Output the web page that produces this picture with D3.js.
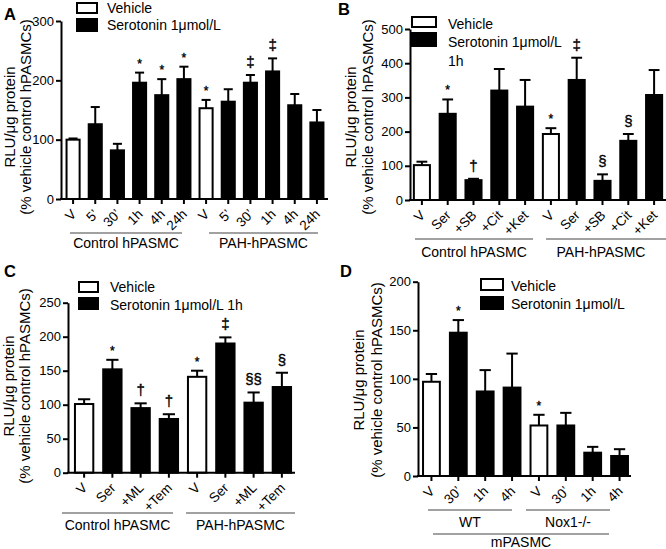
<!DOCTYPE html>
<html><head><meta charset="utf-8">
<script src="https://cdn.jsdelivr.net/npm/d3@7"></script>
<style>
body{margin:0;background:#fff;}
svg{display:block;font-family:"Liberation Sans",Arial,Helvetica,sans-serif;}
svg text{fill:#000;}
</style></head><body>
<svg id="chart" width="666" height="549"></svg>
<script>
// ---------- DATA ----------
// Panel A
const aLabels = ["V","5’","30’","1h","4h","24h","V","5’","30’","1h","4h","24h"];
const aValues = [100,126,82,196,175,202,153,164,196,215,158,129];
const aErrors = [2,29,11,17,27,21,14,21,13,22,19,21];
const aTypes  = ["veh","ser","ser","ser","ser","ser","veh","ser","ser","ser","ser","ser"];
const aMarks  = ["","","","*","*","*","*","","‡","‡","",""];
const aTicks  = [0,100,200,300];
const aGroups = ["Control hPASMC","PAH-hPASMC"];
const aLegend = ["Vehicle","Serotonin 1μmol/L"];

// Panel B
const bLabels = ["V","Ser","+SB","+Cit","+Ket","V","Ser","+SB","+Cit","+Ket"];
const bValues = [102,252,58,320,273,193,351,56,173,307];
const bErrors = [10,42,4,63,78,17,65,19,20,73];
const bTypes  = ["veh","ser","ser","ser","ser","veh","ser","ser","ser","ser"];
const bMarks  = ["","*","†","","","*","‡","§","§",""];
const bTicks  = [0,100,200,300,400,500];
const bGroups = ["Control hPASMC","PAH-hPASMC"];
const bLegend = ["Vehicle","Serotonin 1μmol/L","1h"];

// Panel C
const cLabels = ["V","Ser","+ML","+Tem","V","Ser","+ML","+Tem"];
const cValues = [101,152,95,79,141,190,103,126];
const cErrors = [7,14,7,7,9,9,15,21];
const cTypes  = ["veh","ser","ser","ser","veh","ser","ser","ser"];
const cMarks  = ["","*","†","†","*","‡","§§","§"];
const cTicks  = [0,50,100,150,200,250];
const cGroups = ["Control hPASMC","PAH-hPASMC"];
const cLegend = ["Vehicle","Serotonin 1μmol/L 1h"];

// Panel D
const dLabels = ["V","30’","1h","4h","V","30’","1h","4h"];
const dValues = [97,147.5,87,91,52,52,24,20.6];
const dErrors = [8,13,22,35,11,13,6,7];
const dTypes  = ["veh","ser","ser","ser","veh","ser","ser","ser"];
const dMarks  = ["","*","","","*","","",""];
const dTicks  = [0,50,100,150,200];
const dGroups = ["WT","Nox1-/-","mPASMC"];
const dLegend = ["Vehicle","Serotonin 1μmol/L"];

const yTitle = ["RLU/μg protein","(% vehicle control hPASMCs)"];

// ---------- DRAW ----------
const svg = d3.select("#chart");
const FILL = {veh:"#fff", ser:"#000"};
const FONT = "'Liberation Sans', Arial, Helvetica, sans-serif";

function drawPanel(p){
  const g = svg.append("g");
  const y = d3.scaleLinear().domain([0, d3.max(p.ticks)]).range([p.y0, p.yTop]);
  const x = d3.scaleBand().domain(d3.range(p.values.length))
    .range([p.x0, p.x1]).paddingInner(p.pad).paddingOuter(p.pad/2);
  const bw = x.bandwidth();
  const cw = bw*0.6;

  // error bars (upper)
  const eb = g.append("g").attr("stroke","#000").attr("stroke-width",2);
  p.values.forEach((v,i)=>{
    const cx = x(i)+bw/2, top = y(v+p.errors[i]);
    eb.append("line").attr("x1",cx).attr("x2",cx).attr("y1",y(v)).attr("y2",top);
    eb.append("line").attr("x1",cx-cw/2).attr("x2",cx+cw/2).attr("y1",top).attr("y2",top);
  });
  // bars
  g.append("g").selectAll("rect").data(p.values).join("rect")
    .attr("x",(d,i)=>x(i)+1).attr("width",bw-2)
    .attr("y",d=>y(d)).attr("height",d=>y(0)-y(d))
    .attr("fill",(d,i)=>FILL[p.types[i]]).attr("stroke","#000").attr("stroke-width",2);

  // significance marks
  g.append("g").selectAll("text").data(p.marks).join("text")
    .attr("transform",(d,i)=>`translate(${x(i)+bw/2},${y(p.values[i]+p.errors[i]) - (d==="*"?5:8)}) rotate(0.01)`)
    .attr("text-anchor","middle")
    .attr("font-family",FONT).attr("fill","#000")
    .attr("stroke","#000").attr("stroke-width",0.35)
    .attr("font-size",d=>d==="*"?12:15)
    .text(d=>d);

  // y axis
  const ya = g.append("g").attr("transform",`translate(${p.axisX},0)`)
    .call(d3.axisLeft(y).tickValues(p.ticks).tickSize(5).tickSizeOuter(0).tickPadding(2));
  ya.select(".domain").attr("stroke-width",2);
  ya.selectAll(".tick line").attr("stroke-width",2);
  ya.selectAll(".tick text").attr("font-size",13).attr("fill","#000").attr("font-family",FONT);

  // x axis line and ticks
  g.append("line").attr("x1",p.axisX-1).attr("x2",p.xEnd).attr("y1",y(0)).attr("y2",y(0))
    .attr("stroke","#000").attr("stroke-width",2);
  g.append("g").selectAll("line").data(p.values).join("line")
    .attr("x1",(d,i)=>x(i)+bw/2).attr("x2",(d,i)=>x(i)+bw/2)
    .attr("y1",y(0)).attr("y2",y(0)+5).attr("stroke","#000").attr("stroke-width",2);
  g.append("g").selectAll("text").data(p.labels).join("text")
    .attr("transform",(d,i)=>`translate(${x(i)+bw/2+4},${y(0)+16}) rotate(-45)`)
    .attr("text-anchor","end").attr("font-size",13.5).text(d=>d);

  // y title
  yTitle.forEach((t,k)=>{
    g.append("text").attr("transform",`translate(${p.titleX[k]},${p.titleY}) rotate(-90)`)
      .attr("text-anchor","middle").attr("dy","0.35em").attr("font-size",15).text(t);
  });

  // groups
  p.groupPos.forEach((gp,k)=>{
    g.append("line").attr("x1",gp[0]).attr("x2",gp[1]).attr("y1",gp[2]).attr("y2",gp[2])
      .attr("stroke","#444").attr("stroke-width",1.2);
    g.append("text").attr("x",(gp[0]+gp[1])/2 + (gp[4]||0)).attr("y",gp[3])
      .attr("text-anchor","middle").attr("font-size",14).text(p.groups[k]);
  });

  // legend
  const L = p.legend;
  L.boxes.forEach((b,k)=>{
    g.append("rect").attr("x",L.x).attr("y",b[0]).attr("width",L.w).attr("height",b[1])
      .attr("fill",k===0?"#fff":"#000").attr("stroke","#000").attr("stroke-width",2);
  });
  p.legendText.forEach((t,k)=>{
    g.append("text").attr("x",L.tx).attr("y",L.ty[k]).attr("dy","0.35em")
      .attr("font-size",14).text(t);
  });

  // panel letter
  g.append("text").attr("x",p.letter[1]).attr("y",p.letter[2])
    .attr("font-size",16.5).attr("font-weight","bold").text(p.letter[0]);
}

drawPanel({values:aValues, errors:aErrors, types:aTypes, marks:aMarks, labels:aLabels, ticks:aTicks,
  groups:aGroups, legendText:aLegend,
  y0:199, yTop:21, x0:62, x1:328, xEnd:328, pad:0.32, axisX:61,
  titleX:[10,26], titleY:117,
  groupPos:[[70,182,233,248],[209,318,233,248]],
  legend:{x:77,w:20,boxes:[[3,10],[19,12]],tx:107,ty:[8,25]},
  letter:["A",4,20]});

drawPanel({values:bValues, errors:bErrors, types:bTypes, marks:bMarks, labels:bLabels, ticks:bTicks,
  groups:bGroups, legendText:bLegend,
  y0:200, yTop:29, x0:409, x1:667, xEnd:666, pad:0.3, axisX:410,
  titleX:[351,368], titleY:117,
  groupPos:[[415,533,239,257],[546,666,239,257,-5]],
  legend:{x:412,w:24,boxes:[[17,10],[33,13]],tx:448,ty:[24,42,61]},
  letter:["B",338,15]});

drawPanel({values:cValues, errors:cErrors, types:cTypes, marks:cMarks, labels:cLabels, ticks:cTicks,
  groups:cGroups, legendText:cLegend,
  y0:472.7, yTop:302.7, x0:70, x1:296, xEnd:295, pad:0.28, axisX:68,
  titleX:[9,25], titleY:386,
  groupPos:[[62,173,513,530],[186,295,513,530]],
  legend:{x:79,w:19,boxes:[[282,10],[298,11]],tx:110,ty:[287,305]},
  letter:["C",4,277]});

drawPanel({values:dValues, errors:dErrors, types:dTypes, marks:dMarks, labels:dLabels, ticks:dTicks,
  groups:dGroups, legendText:dLegend,
  y0:476, yTop:281.7, x0:418, x1:633, xEnd:631, pad:0.3, axisX:418,
  titleX:[359,377], titleY:380,
  groupPos:[[428,512,510,527],[526,610,510,527],[433,609,534,547]],
  legend:{x:481,w:22,boxes:[[279,11],[297,12]],tx:511,ty:[286,304]},
  letter:["D",340,277]});
</script>
</body></html>
